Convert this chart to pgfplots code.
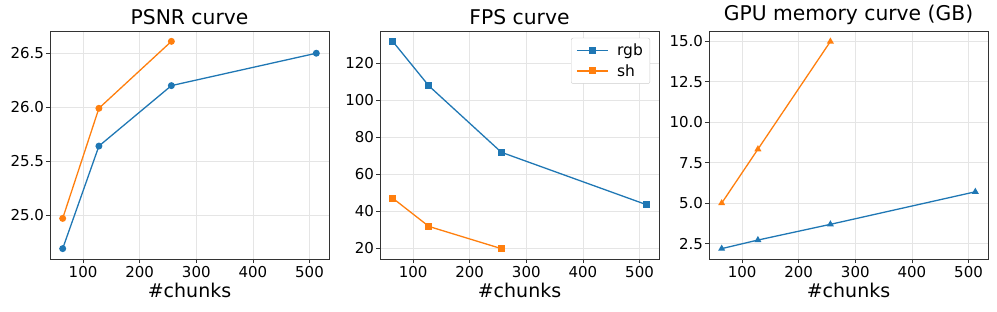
\documentclass[border=0pt]{standalone}
\usepackage{pgfplots}
\pgfplotsset{compat=1.18}
\usepackage{fontspec}
\setmainfont{DejaVu Sans}
\definecolor{tabblue}{HTML}{1F77B4}
\definecolor{taborange}{HTML}{FF7F0E}
\pgfplotsset{
  myax/.style={
    scale only axis, width=279pt, height=228pt,
    anchor=south west,
    xmin=41.6, xmax=534.4, xtick={100,200,300,400,500},
    tick pos=left,
    grid=major, grid style={black!10, line width=0.6pt},
    axis line style={black!80, line width=0.8pt},
    tick align=outside, major tick length=4pt,
    tick style={black!80, line width=0.8pt},
    tick label style={font=\fontsize{15}{17}\selectfont},
    yticklabel style={xshift=1.5pt},
    /pgf/number format/assume math mode=true,
    title style={font=\fontsize{20.3}{23}\selectfont, yshift=-3pt},
    label style={font=\fontsize{19}{22}\selectfont},
    xlabel={\#chunks},
    xlabel style={yshift=1.5pt},
    every axis plot/.append style={line width=1.3pt, mark size=2.8pt},
  },
}
\begin{document}
\begin{tikzpicture}[x=1pt,y=1pt]
\useasboundingbox (0,0) rectangle (997,312);
% PSNR
\begin{axis}[myax, at={(50pt,53pt)},
  title={PSNR curve},
  ymin=24.594, ymax=26.706,
  ytick={25.0,25.5,26.0,26.5},
  yticklabel style={/pgf/number format/.cd, fixed, fixed zerofill, precision=1}]
\addplot[color=tabblue, mark=*] coordinates {(64,24.69) (128,25.64) (256,26.20) (512,26.50)};
\addplot[color=taborange, mark=*] coordinates {(64,24.97) (128,25.99) (256,26.61)};
\end{axis}
% FPS
\begin{axis}[myax, at={(380pt,53pt)},
  title={FPS curve},
  ymin=14.0, ymax=137.3,
  ytick={20,40,60,80,100,120},
  legend image post style={xscale=1.85, mark options={xscale=0.54}},
  legend style={at={(0.968,0.97)}, anchor=north east, draw=black!20, rounded corners=2pt,
    font=\fontsize{15.5}{17}\selectfont, row sep=3pt, inner xsep=5pt, inner ysep=4pt,
    /tikz/every odd column/.append style={column sep=6pt}},
  legend cell align=left]
\addplot[color=tabblue, mark=square*] coordinates {(64,131.7) (128,107.6) (256,71.7) (512,43.4)};
\addlegendentry{rgb}
\addplot[color=taborange, mark=square*] coordinates {(64,46.9) (128,31.6) (256,19.6)};
\addlegendentry{sh}
\end{axis}
% GPU memory
\begin{axis}[myax, at={(709pt,53pt)},
  title={GPU memory curve (GB)},
  ymin=1.55, ymax=15.63,
  ytick={2.5,5.0,7.5,10.0,12.5,15.0},
  yticklabel style={/pgf/number format/.cd, fixed, fixed zerofill, precision=1}]
\addplot[color=tabblue, mark=triangle*] coordinates {(64,2.19) (128,2.72) (256,3.69) (512,5.70)};
\addplot[color=taborange, mark=triangle*] coordinates {(64,5.00) (128,8.33) (256,14.98)};
\end{axis}
\end{tikzpicture}
\end{document}
